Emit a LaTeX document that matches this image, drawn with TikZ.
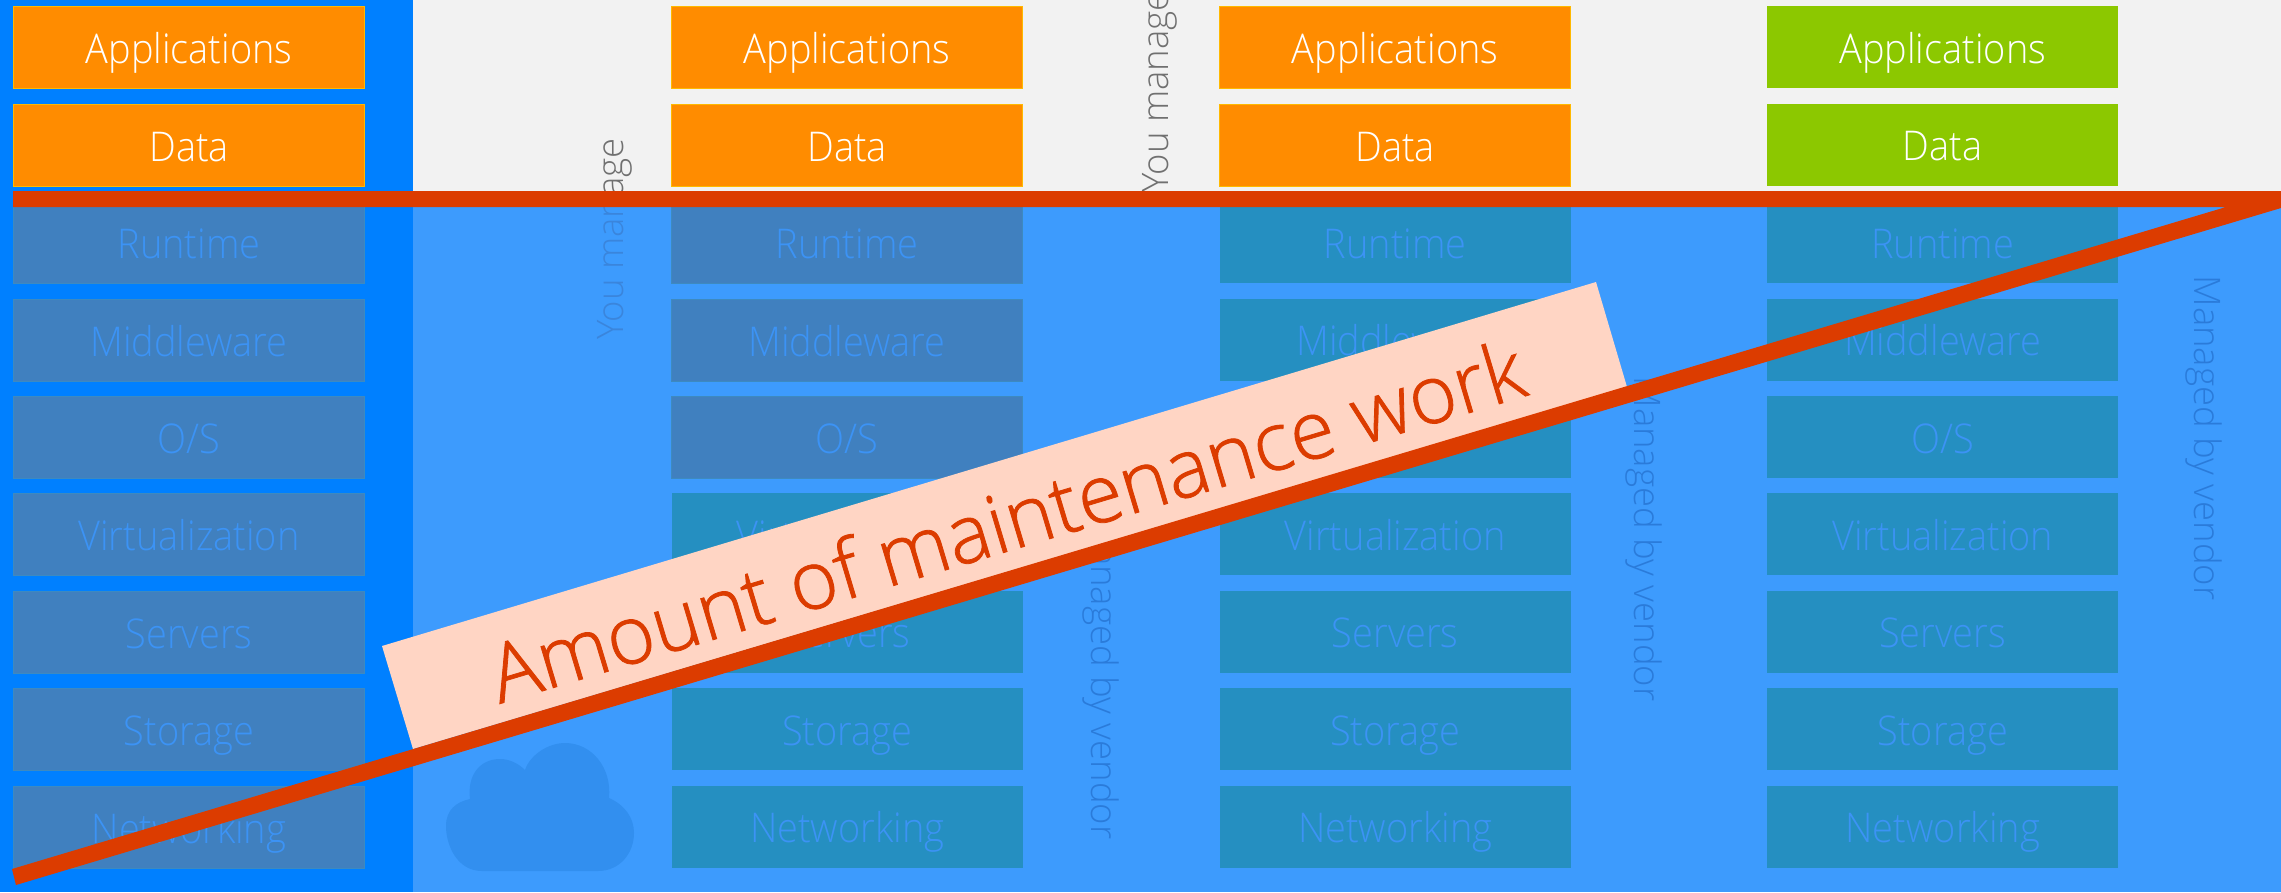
\documentclass[tikz,border=0pt]{standalone}
\usepackage{fontspec}
\setmainfont{Open Sans Light}
\newfontfamily\boxfont{Open Sans Light}[FakeStretch=0.925]
\newfontfamily\bannerfont{Open Sans Light}[FakeBold=1]
\definecolor{panelL}{HTML}{0080FF}
\definecolor{panelB}{HTML}{3D9BFD}
\definecolor{paper}{HTML}{F2F2F2}
\definecolor{orangeF}{HTML}{FF8C00}
\definecolor{orangeB}{HTML}{FFB900}
\definecolor{greenF}{HTML}{8CC800}
\definecolor{tealF}{HTML}{258FC1}
\definecolor{slateF}{HTML}{4080BF}
\definecolor{slateB}{HTML}{3D8AC0}
\definecolor{faint}{HTML}{3C93F5}
\definecolor{redL}{HTML}{DC3C00}
\definecolor{pinkF}{HTML}{FFD5C4}
\definecolor{cloudF}{HTML}{328FEF}
\definecolor{vend}{HTML}{2A7BDA}
\definecolor{youT}{HTML}{707070}
\definecolor{youB}{HTML}{3A85DC}
\begin{document}
\begin{tikzpicture}[x=1pt,y=-1pt,
  lay/.style={minimum width=351pt,minimum height=82pt,inner sep=0pt,anchor=north west,
    text height=57pt,text depth=25pt,font=\boxfont\fontsize{41}{41}\selectfont},
  orangebox/.style={lay,fill=orangeF,draw=orangeB,line width=1.2pt,text=white},
  greenbox/.style={lay,fill=greenF,text=white},
  tealbox/.style={lay,fill=tealF,text=faint},
  slatebox/.style={lay,fill=slateF,draw=slateB,line width=1pt,text=faint},
  side/.style={inner sep=0pt,anchor=base,font=\fontsize{36.5}{36.5}\selectfont}]
\useasboundingbox (0,0) rectangle (2281,892);
\fill[paper] (0,0) rectangle (2281,892);
\fill[panelL] (0,0) rectangle (413,892);
\fill[panelB] (413,199) rectangle (2281,892);
% cloud
\fill[cloudF] (482,871) .. controls (457,871) and (446,845) .. (446,826)
  .. controls (446,810) and (456,802) .. (470,799)
  .. controls (467,775) and (480,759) .. (500,759)
  .. controls (510,759) and (519,764) .. (525,770)
  .. controls (530,755) and (548,743) .. (565,743)
  .. controls (592,743) and (612,768) .. (609,798)
  .. controls (625,805) and (634,818) .. (634,833)
  .. controls (634,853) and (620,871) .. (598,871) -- cycle;
% side labels
\begin{scope}
 \clip (413,0) rectangle (2281,199);
 \node[side,rotate=90,text=youT] (you1t) at (623,239) {You manage};
 \node[side,rotate=90,text=youT] (you2t) at (1168,92) {You manage};
\end{scope}
\begin{scope}
 \clip (413,199) rectangle (2281,892);
 \node[side,rotate=90,text=youB] (you1b) at (623,239) {You manage};
 \node[side,rotate=90,text=youB] (you2b) at (1168,92) {You manage};
\end{scope}
\node[side,rotate=-90,text=vend] (v1) at (1091,677) {Managed by vendor};
\node[side,rotate=-90,text=vend] (v2) at (1634,539) {Managed by vendor};
\node[side,rotate=-90,text=vend] (v3) at (2194,438) {Managed by vendor};
% columns
\foreach \c/\X/\st in {a/13/orangebox,b/671/orangebox,c/1219/orangebox,d/1767/greenbox}{
  \node[\st] (app\c) at (\X,6) {Applications};
  \node[\st] (dat\c) at (\X,103.7) {Data};
}
\foreach \c/\X in {a/13,b/671}{
  \node[slatebox] (run\c) at (\X,201) {Runtime};
  \node[slatebox] (mid\c) at (\X,298.5) {Middleware};
  \node[slatebox] (os\c) at (\X,396) {O/S};
}
\foreach \c/\X in {c/1219.5,d/1767}{
  \node[tealbox] (run\c) at (\X,201) {Runtime};
  \node[tealbox] (mid\c) at (\X,298.5) {Middleware};
  \node[tealbox] (os\c) at (\X,396) {O/S};
}
\node[slatebox] (vira) at (13,493) {Virtualization};
\node[slatebox] (sera) at (13,590.5) {Servers};
\node[slatebox] (stoa) at (13,688) {Storage};
\node[slatebox] (neta) at (13,785.5) {Networking};
\foreach \c/\X in {b/671.5,c/1219.5,d/1767}{
  \node[tealbox] (vir\c) at (\X,493) {Virtualization};
  \node[tealbox] (ser\c) at (\X,590.5) {Servers};
  \node[tealbox] (sto\c) at (\X,688) {Storage};
  \node[tealbox] (net\c) at (\X,785.5) {Networking};
}
% banner
\fill[pinkF] (382,646) -- (1596,282) -- (1627,387) -- (413,749) -- cycle;
% wedge
\fill[redL] (13,191) -- (2281,191) -- (2281,208) -- (16,885) -- (12,869) -- (2226,207) -- (13,207) -- cycle;
\node[rotate=16.7,text=redL,inner sep=0pt,font=\bannerfont\fontsize{81}{81}\selectfont] (work) at (1006,520) {Amount of maintenance work};
\end{tikzpicture}
\end{document}
